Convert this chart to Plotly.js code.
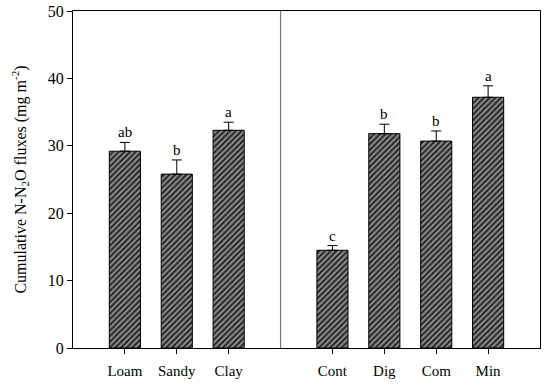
<!DOCTYPE html>
<html><head><meta charset="utf-8">
<script src="https://cdn.plot.ly/plotly-3.0.1.min.js"></script>
<style>body{margin:0;background:#fff}#c{width:550px;height:386px}</style>
</head><body><div id="c"></div>
<script>
var categories = ["Loam","Sandy","Clay","Cont","Dig","Com","Min"];
var positions = [0,1,2,4,5,6,7];
var values = [29.2, 25.8, 32.3, 14.5, 31.8, 30.7, 37.2];
var errors = [1.3, 2.1, 1.2, 0.7, 1.4, 1.5, 1.7];
var letters = ["ab","b","a","c","b","b","a"];

var trace = {
  type: "bar", x: positions, y: values, width: 0.6,
  marker: {color: "#8a8a8a", line: {color: "#000", width: 1},
    pattern: {shape: "/", fgcolor: "#1a1a1a", bgcolor: "#8a8a8a", size: 4, solidity: 0.45}},
  error_y: {type: "data", array: errors, arrayminus: errors.map(function(){return 0;}),
    symmetric: false, color: "#000", thickness: 1, width: 5},
  hoverinfo: "none"
};
var ann = positions.map(function(p,i){
  return {x: p, y: values[i]+errors[i], text: letters[i], showarrow: false,
    yanchor: "bottom", yshift: 0, font: {family: "Liberation Serif", size: 15, color: "#000"}};
});
var layout = {
  width: 550, height: 386,
  margin: {l: 73, r: 10, t: 11, b: 38},
  paper_bgcolor: "#fff", plot_bgcolor: "#fff",
  showlegend: false,
  font: {family: "Liberation Serif", size: 15, color: "#000"},
  xaxis: {range: [-1, 8], tickvals: positions, ticktext: categories,
    ticks: "outside", ticklen: 5, tickcolor: "#000", showgrid: false, zeroline: false,
    showline: true, linecolor: "#000", linewidth: 1, mirror: true, ticklabelstandoff: 4,
    tickfont: {family: "Liberation Serif", size: 15}},
  yaxis: {range: [0, 50], dtick: 10, ticks: "outside", ticklen: 5, tickcolor: "#000",
    showgrid: false, zeroline: false, showline: true, linecolor: "#000", linewidth: 1, mirror: true,
    tickfont: {family: "Liberation Serif", size: 16},
    title: {text: "Cumulative N-N<sub>2</sub>O fluxes (mg m<sup>-2</sup>)",
      font: {family: "Liberation Serif", size: 16}, standoff: 17}},
  shapes: [{type: "line", xref: "x", yref: "paper", x0: 3, x1: 3, y0: 0, y1: 1,
    line: {color: "#777", width: 1.2}}],
  annotations: ann
};
Plotly.newPlot("c", [trace], layout, {staticPlot: true});
</script></body></html>
